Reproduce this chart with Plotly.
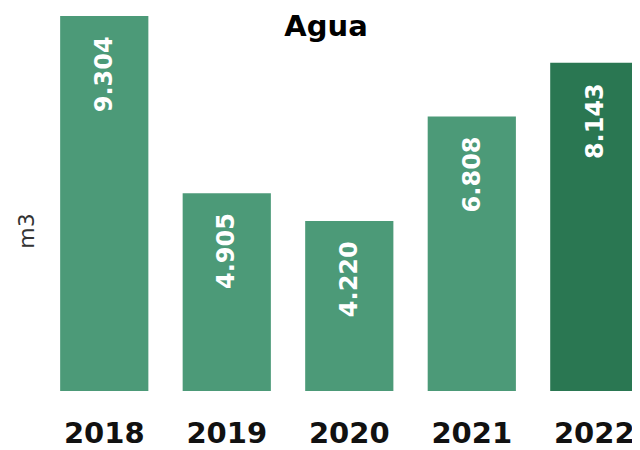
import plotly.graph_objects as go

years = ["2018", "2019", "2020", "2021", "2022"]
values = [9.304, 4.905, 4.220, 6.808, 8.143]
labels = ["9.304", "4.905", "4.220", "6.808", "8.143"]
colors = ["#4c9a78", "#4c9a78", "#4c9a78", "#4c9a78", "#2a7752"]

FONT = "DejaVu Sans"

fig = go.Figure(go.Bar(
    x=years, y=values, marker_color=colors, width=0.72,
    marker_line_width=0, hoverinfo="skip",
))

for i, (v, lab) in enumerate(zip(values, labels)):
    fig.add_annotation(
        x=i, y=v, xref="x", yref="y", text="<b>%s</b>" % lab, showarrow=False,
        textangle=-90, yanchor="top", yshift=-18,
        font=dict(family=FONT, size=24, color="white"),
    )

fig.add_annotation(
    xref="paper", yref="paper", x=(27 - 8 - 35) / 597, xanchor="center",
    y=1 - (234 - 16) / 379, yanchor="middle", text="m3", showarrow=False,
    textangle=-90, font=dict(family=FONT, size=22, color="#333"),
)

fig.update_layout(
    width=632, height=442,
    margin=dict(l=35, r=0, t=8, b=55),
    paper_bgcolor="white", plot_bgcolor="white",
    showlegend=False,
    title=dict(text="<b>Agua</b>", x=(326 - 8) / 632, xanchor="center", yref="container",
               y=1 - (26 - 8) / 442, yanchor="middle",
               font=dict(family=FONT, size=29, color="black")),
    xaxis=dict(type="category", range=[-0.5, 4.373], showgrid=False, zeroline=False,
               showline=False, ticks="",
               tickfont=dict(family=FONT, size=29, color="#111", weight="bold"),
               ticklabelstandoff=22),
    yaxis=dict(range=[0, 9.304], visible=False),
)

fig.write_html("out.html")
